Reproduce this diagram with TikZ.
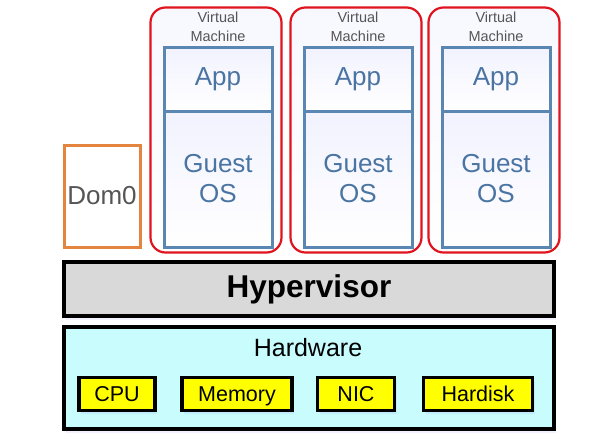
\documentclass[tikz,border=0pt]{standalone}
\usepackage{fontspec}
\setmainfont{Liberation Sans}
\usepackage{tikz}
\usetikzlibrary{positioning, calc, shadows}
\usepackage{xcolor}
\definecolor{vmred}{HTML}{E0141E}
\definecolor{osblue}{HTML}{5A87B2}
\definecolor{ostext}{HTML}{4A74A2}
\definecolor{domorange}{HTML}{E3843F}
\definecolor{labelgray}{HTML}{555555}
\definecolor{hypgray}{HTML}{D9D9D9}
\definecolor{hwcyan}{HTML}{C8FCFD}
\definecolor{chipyellow}{HTML}{FFFF00}

\tikzset{
  vmbox/.style={draw=vmred, line width=2.2pt, rounded corners=15pt,
    top color=blue!3, bottom color=white,
    minimum width=131pt, minimum height=245pt, inner sep=0pt},
  appbox/.style={draw=osblue, line width=3pt, top color=blue!5, bottom color=white,
    minimum width=108pt, minimum height=64pt, inner sep=0pt,
    text=ostext, font=\fontsize{26}{30}\selectfont},
  osbox/.style={appbox, minimum height=136pt, align=center},
  vmlabel/.style={text=labelgray, font=\fontsize{14.5}{19}\selectfont, align=center},
  layerbox/.style={draw=black, line width=3.5pt, minimum width=490pt, inner sep=0pt,
    drop shadow={shadow xshift=2pt, shadow yshift=-4pt, opacity=.12, fill=blue!40}},
  chipbox/.style={draw=black, line width=3.5pt, fill=chipyellow, minimum height=33pt,
    inner sep=0pt, text height=17pt, text depth=1.6pt, font=\fontsize{21.5}{24}\selectfont,
    drop shadow={shadow xshift=2pt, shadow yshift=-3pt, opacity=.15, fill=blue!40}}
}

\begin{document}
\begin{tikzpicture}[x=1pt, y=-1pt]
  \useasboundingbox[fill=white] (0,0) rectangle (598,439);

  % virtual machines
  \node[vmbox] (vm1) at (216, 130) {};
  \node[vmlabel] (vmlab1) at (218, 27) {Virtual\\Machine};
  \node[appbox] (app1) at (218, 79) {App};
  \node[osbox] (os1) at (218, 179) {Guest\\OS};

  \node[vmbox] (vm2) at (356, 130) {};
  \node[vmlabel] (vmlab2) at (358, 27) {Virtual\\Machine};
  \node[appbox] (app2) at (358, 79) {App};
  \node[osbox] (os2) at (358, 179) {Guest\\OS};

  \node[vmbox] (vm3) at (494, 130) {};
  \node[vmlabel] (vmlab3) at (496, 27) {Virtual\\Machine};
  \node[appbox] (app3) at (496, 79) {App};
  \node[osbox] (os3) at (496, 179) {Guest\\OS};

  % control domain
  \node[draw=domorange, line width=3pt, minimum width=76pt, minimum height=102pt,
        inner sep=0pt, text=labelgray, font=\fontsize{26}{30}\selectfont]
    (dom0) at (102, 196) {Dom0};

  % hypervisor and hardware layers
  \node[layerbox, fill=hypgray, minimum height=54pt,
        font=\fontsize{31.5}{36}\selectfont\bfseries] (hyp) at (309, 289) {Hypervisor};
  \node[layerbox, fill=hwcyan, minimum height=102pt] (hw) at (309, 378) {};
  \node[font=\fontsize{25}{28}\selectfont] (hwlabel) at (308, 348) {Hardware};

  \node[chipbox, minimum width=76pt] (cpu) at (117, 394) {CPU};
  \node[chipbox, minimum width=110pt] (mem) at (237, 394) {Memory};
  \node[chipbox, minimum width=77pt] (nic) at (356, 394) {NIC};
  \node[chipbox, minimum width=109pt] (disk) at (478, 394) {Hardisk};
\end{tikzpicture}
\end{document}
